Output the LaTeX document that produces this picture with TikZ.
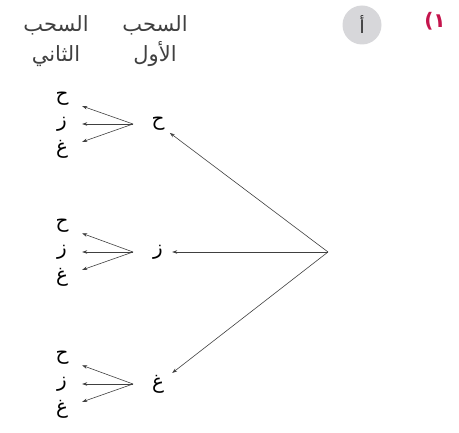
\documentclass[tikz,border=0pt]{standalone}
\usepackage{fontspec}
\usetikzlibrary{arrows.meta}
\TeXXeTstate=1
\newfontfamily\arabicfont[Script=Arabic]{DejaVu Sans}
\newfontfamily\numfont{DejaVu Sans}
\newcommand{\artext}[1]{\beginR #1\endR}
\definecolor{qred}{RGB}{196,20,76}
\definecolor{badgegray}{RGB}{215,215,218}

\begin{document}
\begin{tikzpicture}[x=1pt, y=-1pt,
    letter/.style={font=\arabicfont\fontsize{20}{22}\selectfont, inner sep=2pt, minimum width=28pt},
    leaf/.style={letter, inner ysep=1pt, minimum width=40pt},
    head/.style={font=\arabicfont\fontsize{21}{30}\selectfont, align=center, text=black!75},
    edge/.style={-{Stealth[length=5pt, width=3.5pt]}, line width=0.6pt, black!75}]
    \useasboundingbox (0,0) rectangle (459,433);

    % Define nodes
    \node[circle, fill=badgegray, minimum size=39pt, inner sep=0pt, text=black!85, font=\arabicfont\fontsize{18}{18}\selectfont] (badge) at (362,25) {\artext{أ}};
    \node[text=qred, font=\numfont\bfseries\fontsize{20}{22}\selectfont] (qnum) at (435,21) {(١};

    \node[head] (firstdraw) at (155,41) {\artext{السحب}\\ \artext{الأول}};
    \node[head] (seconddraw) at (56,41) {\artext{السحب}\\ \artext{الثاني}};

    \coordinate (root) at (328,252);

    \node[letter] (haa) at (158,124) {\artext{ح}};
    \node[letter] (zay) at (158,252) {\artext{ز}};
    \node[letter] (ghayn) at (158,384) {\artext{غ}};

    \coordinate (fanhaa) at (133,124);
    \coordinate (fanzay) at (133,252);
    \coordinate (fanghayn) at (133,384);

    \node[leaf] (haa-haa) at (62,99) {\artext{ح}};
    \node[leaf] (haa-zay) at (62,124) {\artext{ز}};
    \node[leaf] (haa-ghayn) at (62,149) {\artext{غ}};

    \node[leaf] (zay-haa) at (62,226) {\artext{ح}};
    \node[leaf] (zay-zay) at (62,252) {\artext{ز}};
    \node[leaf] (zay-ghayn) at (62,277) {\artext{غ}};

    \node[leaf] (ghayn-haa) at (62,358) {\artext{ح}};
    \node[leaf] (ghayn-zay) at (62,384) {\artext{ز}};
    \node[leaf] (ghayn-ghayn) at (62,409) {\artext{غ}};

    % Draw edges
    \draw[edge] (root) -- (haa);
    \draw[edge] (root) -- (zay);
    \draw[edge] (root) -- (ghayn);

    \draw[edge] (fanhaa) -- (haa-haa);
    \draw[edge] (fanhaa) -- (haa-zay);
    \draw[edge] (fanhaa) -- (haa-ghayn);

    \draw[edge] (fanzay) -- (zay-haa);
    \draw[edge] (fanzay) -- (zay-zay);
    \draw[edge] (fanzay) -- (zay-ghayn);

    \draw[edge] (fanghayn) -- (ghayn-haa);
    \draw[edge] (fanghayn) -- (ghayn-zay);
    \draw[edge] (fanghayn) -- (ghayn-ghayn);

\end{tikzpicture}
\end{document}
